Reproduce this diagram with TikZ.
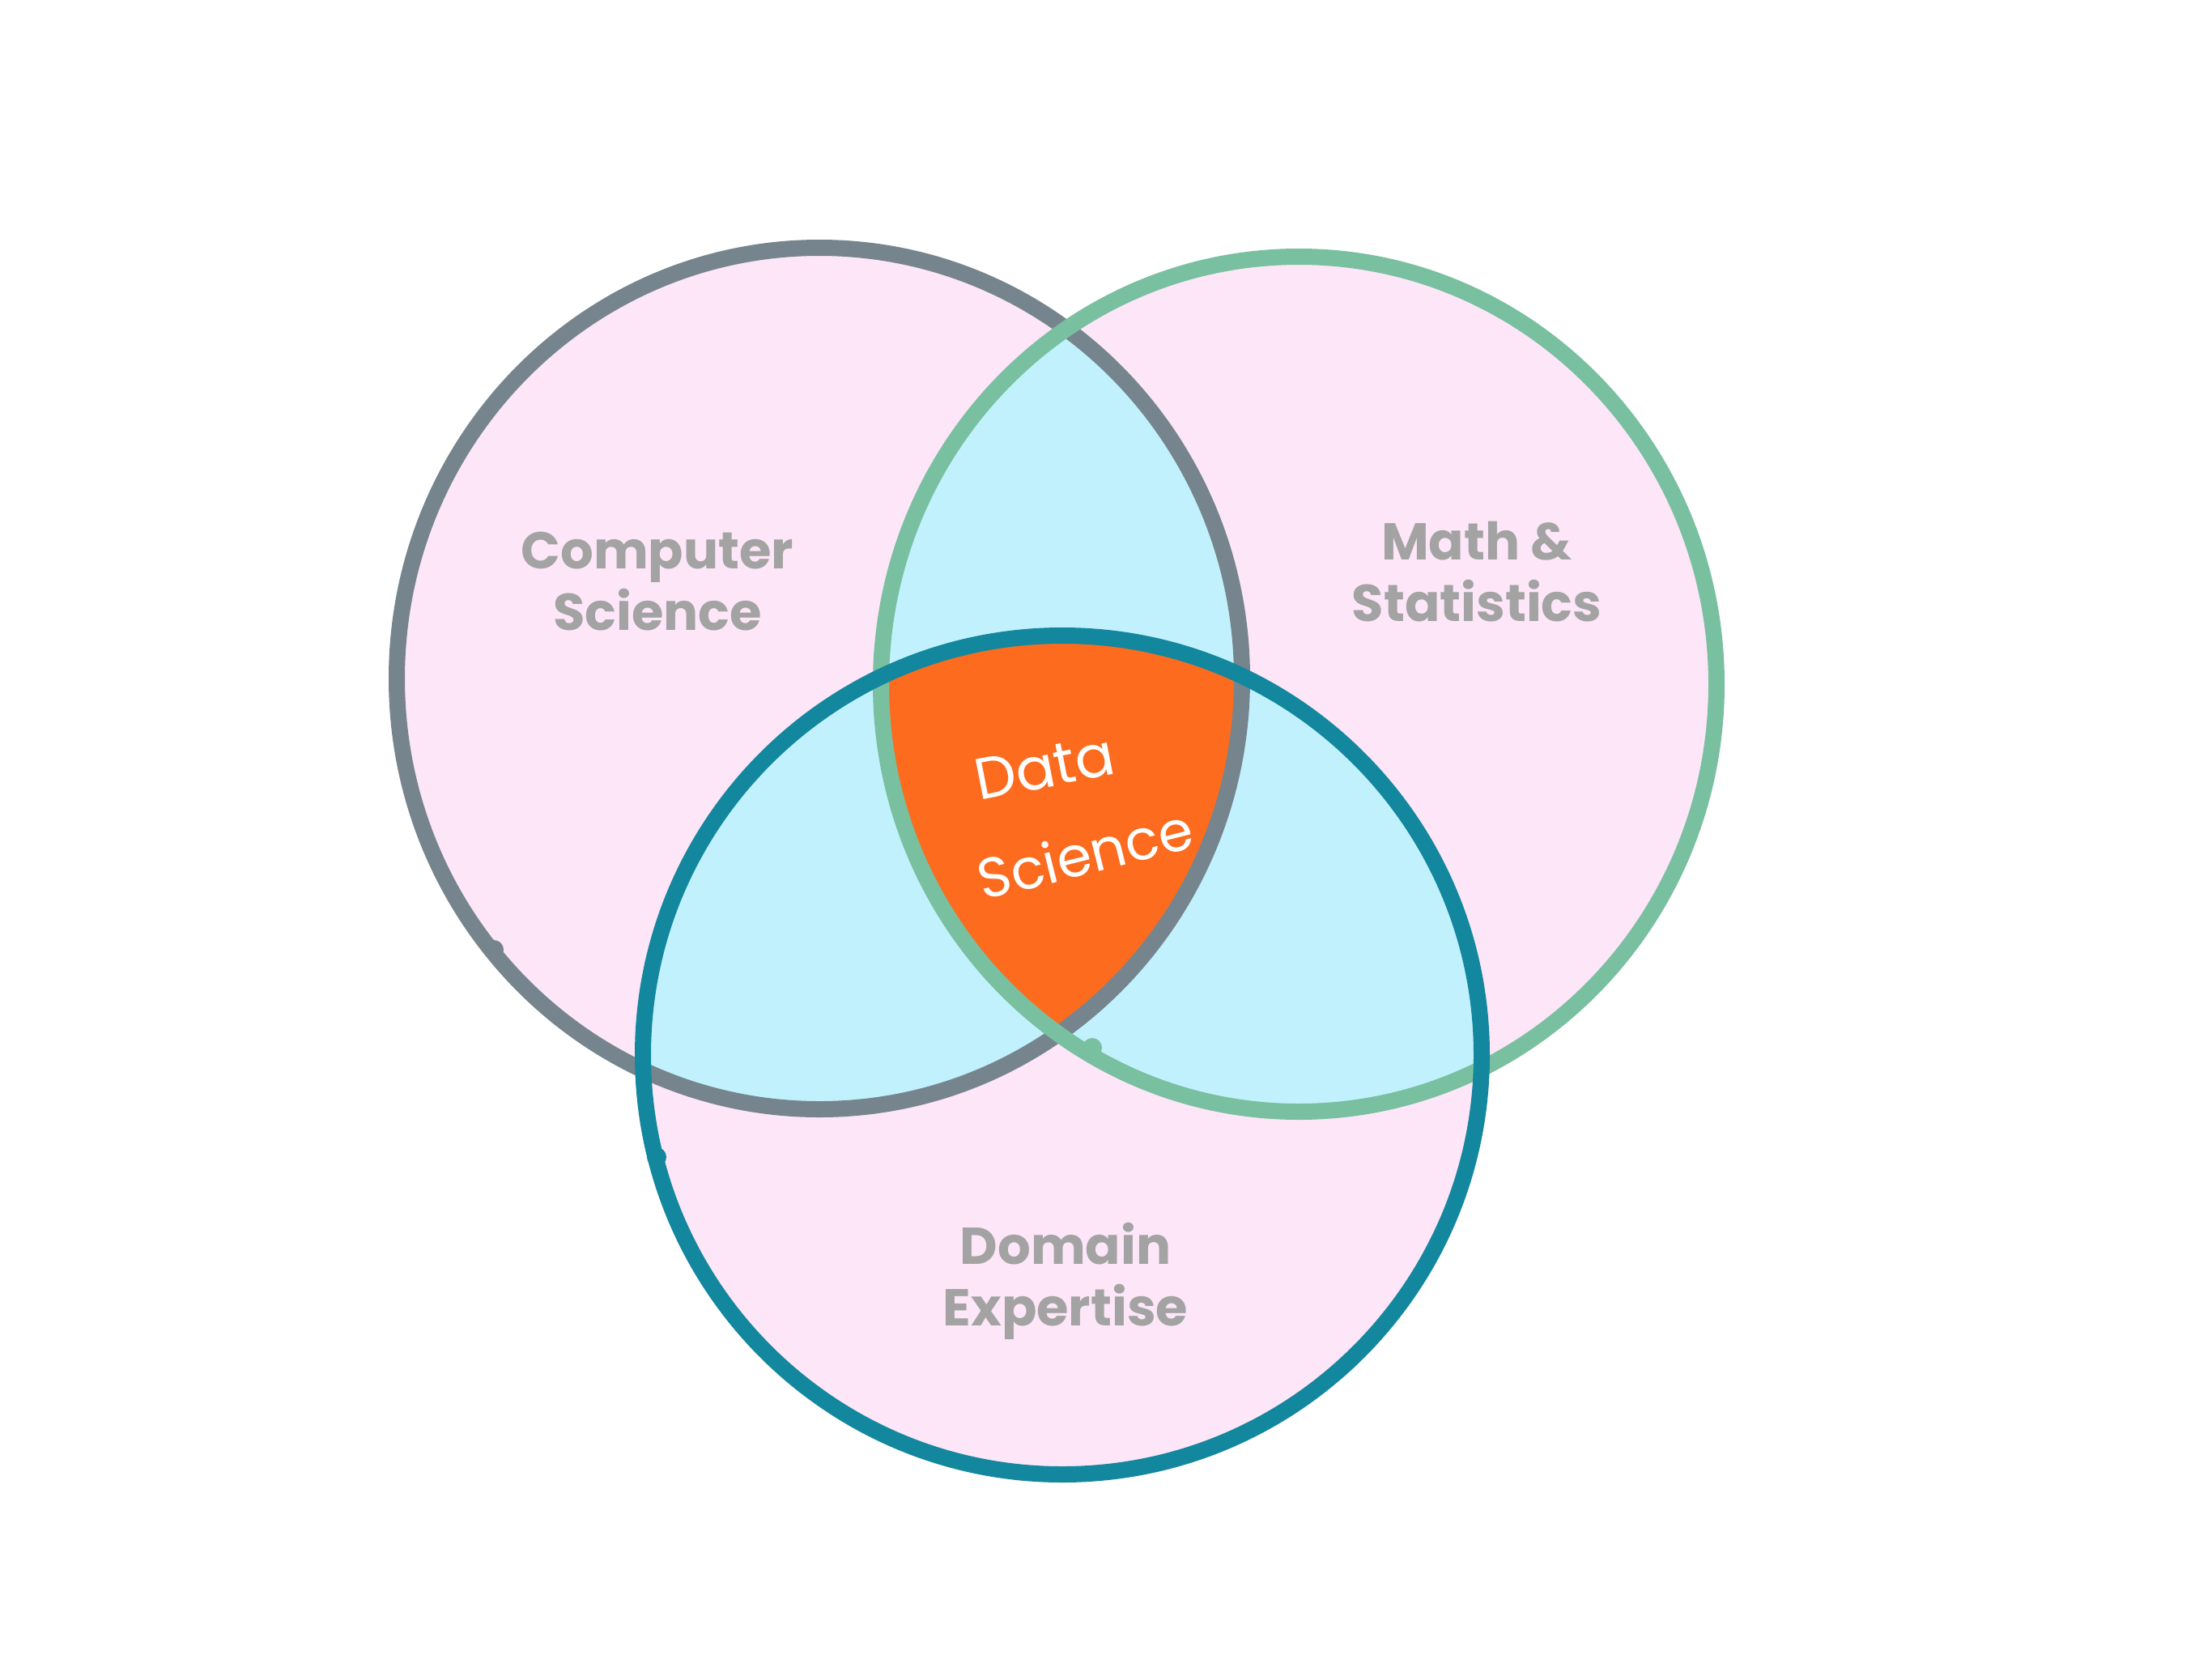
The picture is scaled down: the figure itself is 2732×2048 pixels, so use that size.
\documentclass[tikz,border=0pt]{standalone}
\usepackage{fontspec}
\newfontfamily\handfont{Poppins}
\definecolor{cspink}{HTML}{FCE6F7}
\definecolor{lapcyan}{HTML}{C1F1FC}
\definecolor{coreorange}{HTML}{FD6B1F}
\definecolor{csgray}{HTML}{76858D}
\definecolor{mathgreen}{HTML}{79C0A0}
\definecolor{domteal}{HTML}{13879E}
\definecolor{labelgray}{HTML}{A3A3A3}
\tikzset{
  ring/.style={line width=20pt},
  knob/.style={radius=12pt},
  sidelabel/.style={text=labelgray, align=center, font=\handfont\bfseries\fontsize{64}{76}\selectfont},
  corelabel/.style={text=white, inner sep=0pt, font=\handfont\fontsize{72}{86}\selectfont},
}
% the three sets
\def\setcs{(1012,838) ellipse [x radius=522pt, y radius=532pt]}
\def\setmath{(1604,845) ellipse [x radius=516pt, y radius=528pt]}
\def\setdom{(1312,1303) ellipse [x radius=518pt, y radius=518pt]}
\begin{document}
\begin{tikzpicture}[x=1pt, y=-1pt]
  \fill[white] (0,0) rectangle (2732,2048);
  \useasboundingbox (0,0) rectangle (2732,2048);

  % single regions
  \fill[cspink] \setcs;
  \fill[cspink] \setmath;
  \fill[cspink] \setdom;

  % pairwise overlaps
  \begin{scope}
    \clip \setcs;
    \fill[lapcyan] \setmath;
    \fill[lapcyan] \setdom;
  \end{scope}
  \begin{scope}
    \clip \setmath;
    \fill[lapcyan] \setdom;
  \end{scope}

  % common core
  \begin{scope}
    \clip \setcs;
    \clip \setmath;
    \fill[coreorange] \setdom;
  \end{scope}

  % outlines, with the small knobs where each pen stroke was joined
  \draw[ring, csgray] \setcs;
  \fill[csgray] (610,1173) circle [knob];
  \draw[ring, mathgreen] \setmath;
  \fill[mathgreen] (1349,1294) circle [knob];
  \draw[ring, domteal] \setdom;
  \fill[domteal] (811,1429) circle [knob];

  % labels
  \node[sidelabel] (cs) at (812,718) {Computer\\Science};
  \node[sidelabel] (ms) at (1824,706) {Math \&\\Statistics};
  \node[sidelabel] (de) at (1316,1582) {Domain\\Expertise};
  \node[corelabel, rotate=11] (dsa) at (1290,948) {Data};
  \node[corelabel, rotate=14, font=\handfont\fontsize{69}{82}\selectfont] (dsb) at (1340,1054) {Science};
\end{tikzpicture}
\end{document}
